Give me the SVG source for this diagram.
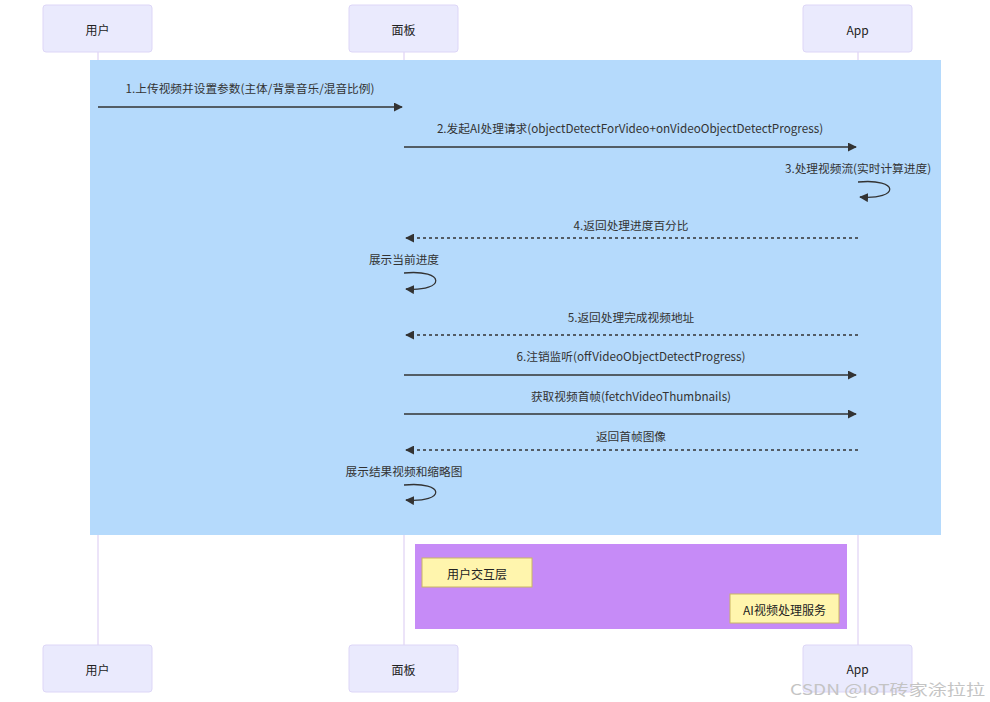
<svg xmlns="http://www.w3.org/2000/svg" width="990" height="702" viewBox="0 0 990 702">
<style>
.actor{fill:#eaeafd;stroke:#ddd6f7;stroke-width:1}
.at{font-family:"Noto Sans CJK SC","Liberation Sans",sans-serif;font-size:12px;fill:#222;text-anchor:middle;dominant-baseline:central}
.life{stroke:#d9c9f2;stroke-width:1}
.msg{stroke:#333;stroke-width:1.3;fill:none}
.dash{stroke-dasharray:3,3}
.lbl{font-family:"Noto Sans CJK SC","Liberation Sans",sans-serif;font-size:11.7px;fill:#333;text-anchor:middle}
.note{fill:#fff5ad;stroke:#c9b664;stroke-width:1}
</style>
<defs>
<marker id="ah" viewBox="0 0 10 10" refX="9" refY="5" markerWidth="9" markerHeight="9" markerUnits="userSpaceOnUse" orient="auto">
<path d="M0,0 L10,5 L0,10 z" fill="#333"/>
</marker>
</defs>
<rect width="990" height="702" fill="#fff"/>
<g id="lifelines">
<line class="life" x1="98" y1="52" x2="98" y2="645"/>
<line class="life" x1="404" y1="52" x2="404" y2="645"/>
<line class="life" x1="858" y1="52" x2="858" y2="645"/>
</g>
<g id="region-main"><rect x="90" y="60" width="851" height="475" fill="#b3d9fc" fill-opacity="0.97"/></g>
<g id="region-layer"><rect x="415" y="544" width="432" height="85" fill="#c68bf7"/></g>
<g id="note-ui"><rect class="note" x="422" y="558" width="110" height="29"/><text class="at" x="477" y="573">用户交互层</text></g>
<g id="note-ai"><rect class="note" x="730" y="594" width="109" height="29"/><text class="at" x="784.5" y="609">AI视频处理服务</text></g>
<g id="actor-user-top"><rect class="actor" x="43" y="5" width="109" height="47" rx="3"/><text class="at" x="97.5" y="29">用户</text></g>
<g id="actor-panel-top"><rect class="actor" x="349" y="5" width="109" height="47" rx="3"/><text class="at" x="403.5" y="29">面板</text></g>
<g id="actor-app-top"><rect class="actor" x="803" y="5" width="109" height="47" rx="3"/><text class="at" x="857.5" y="29">App</text></g>
<g id="actor-user-bottom"><rect class="actor" x="43" y="645" width="109" height="47" rx="3"/><text class="at" x="97.5" y="669">用户</text></g>
<g id="actor-panel-bottom"><rect class="actor" x="349" y="645" width="109" height="47" rx="3"/><text class="at" x="403.5" y="669">面板</text></g>
<g id="actor-app-bottom"><rect class="actor" x="803" y="645" width="109" height="47" rx="3"/><text class="at" x="857.5" y="668">App</text></g>
<g id="connectors">
<line class="msg" x1="98" y1="107" x2="402" y2="107" marker-end="url(#ah)"/>
<text class="lbl" x="250" y="93">1.上传视频并设置参数(主体/背景音乐/混音比例)</text>
<line class="msg" x1="404" y1="147" x2="856" y2="147" marker-end="url(#ah)"/>
<text class="lbl" x="630" y="133">2.发起AI处理请求(objectDetectForVideo+onVideoObjectDetectProgress)</text>
<path class="msg" d="M858,182 C900,178 900,200 860,197" marker-end="url(#ah)"/>
<text class="lbl" x="858" y="173">3.处理视频流(实时计算进度)</text>
<line class="msg dash" x1="858" y1="238" x2="406" y2="238" marker-end="url(#ah)"/>
<text class="lbl" x="631" y="230">4.返回处理进度百分比</text>
<path class="msg" d="M404,273 C446,269 446,292 406,289" marker-end="url(#ah)"/>
<text class="lbl" x="404" y="264">展示当前进度</text>
<line class="msg dash" x1="858" y1="335" x2="406" y2="335" marker-end="url(#ah)"/>
<text class="lbl" x="631" y="322">5.返回处理完成视频地址</text>
<line class="msg" x1="404" y1="375" x2="856" y2="375" marker-end="url(#ah)"/>
<text class="lbl" x="631" y="361">6.注销监听(offVideoObjectDetectProgress)</text>
<line class="msg" x1="404" y1="414" x2="856" y2="414" marker-end="url(#ah)"/>
<text class="lbl" x="631" y="401">获取视频首帧(fetchVideoThumbnails)</text>
<line class="msg dash" x1="858" y1="450" x2="406" y2="450" marker-end="url(#ah)"/>
<text class="lbl" x="631" y="441">返回首帧图像</text>
<path class="msg" d="M404,485 C446,481 446,503 406,500" marker-end="url(#ah)"/>
<text class="lbl" x="404" y="476">展示结果视频和缩略图</text>
</g>
<text x="790" y="695" font-family="Noto Sans CJK SC, Liberation Sans, sans-serif" font-size="15" fill="#c4c4c4" textLength="195" lengthAdjust="spacingAndGlyphs">CSDN @IoT砖家涂拉拉</text>
</svg>
